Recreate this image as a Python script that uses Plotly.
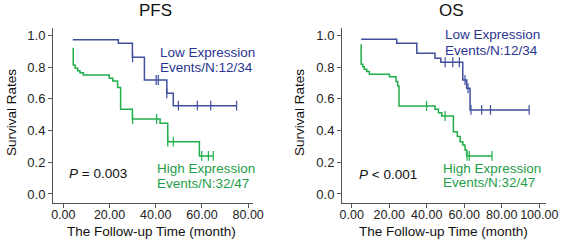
import plotly.graph_objects as go

# ---------------- data ----------------
# PFS, low expression
pfs_low_t = [4.1, 23.8, 29.9, 35.1, 44.8, 47.6, 75.0]
pfs_low_s = [0.973, 0.951, 0.862, 0.719, 0.635, 0.557, 0.557]
pfs_low_cens = [30.0, 40.2, 41.1, 44.8, 49.8, 58.0, 63.8, 75.0]
# PFS, high expression
pfs_high_t = [4.3, 4.3, 5.1, 6.2, 7.2, 8.7, 19.9, 21.4, 23.5, 24.8, 29.9, 41.9, 45.2, 58.9, 64.9]
pfs_high_s = [0.923, 0.814, 0.793, 0.778, 0.765, 0.751, 0.730, 0.713, 0.671, 0.534, 0.473, 0.446, 0.330, 0.240, 0.240]
pfs_high_cens = [30.0, 40.4, 45.2, 47.6, 59.9, 62.8, 64.9]
# OS, low expression
os_low_t = [5.0, 24.0, 34.7, 44.4, 47.5, 59.2, 61.3, 63.1, 94.6]
os_low_s = [0.976, 0.951, 0.888, 0.856, 0.831, 0.719, 0.667, 0.530, 0.530]
os_low_cens = [49.8, 53.9, 57.4, 60.4, 62.0, 63.6, 69.3, 74.0, 94.6]
# OS, high expression
os_high_t = [5.0, 5.0, 5.9, 6.7, 8.0, 9.4, 20.1, 23.6, 24.5, 25.2, 44.4, 46.2, 48.0,
             54.2, 56.3, 57.8, 59.2, 60.4, 61.3, 74.8]
os_high_s = [0.944, 0.818, 0.803, 0.787, 0.772, 0.755, 0.740, 0.709, 0.681, 0.555, 0.534, 0.513, 0.492,
             0.393, 0.362, 0.330, 0.309, 0.278, 0.240, 0.240]
os_high_cens = [39.9, 49.8, 61.5, 62.7, 74.8]

y_ticks = [0.0, 0.2, 0.4, 0.6, 0.8, 1.0]
y_tick_text = ["0.0", "0.2", "0.4", "0.6", "0.8", "1.0"]
pfs_x_ticks = [0, 20, 40, 60, 80]
os_x_ticks = [0, 20, 40, 60, 80, 100]

BLUE_LINE = "#3f4f9c"
GREEN_LINE = "#1fae4a"
BLUE_TEXT = "#2b3590"
GREEN_TEXT = "#1e9e48"
FONT = "Liberation Sans, Arial, sans-serif"


def step_value(ts, ss, t):
    v = ss[0]
    for ti, si in zip(ts, ss):
        if ti <= t + 1e-9:
            v = si
    return v


fig = go.Figure()


def add_curve(ts, ss, cens, color, xa, ya):
    fig.add_trace(go.Scatter(x=ts, y=ss, mode="lines", line=dict(color=color, width=1.5, shape="hv"),
                             xaxis=xa, yaxis=ya, showlegend=False, hoverinfo="skip"))
    fig.add_trace(go.Scatter(x=cens, y=[step_value(ts, ss, c) for c in cens], mode="markers",
                             marker=dict(symbol="line-ns", size=7, line=dict(color=color, width=1.2)),
                             xaxis=xa, yaxis=ya, showlegend=False, hoverinfo="skip"))


add_curve(pfs_low_t, pfs_low_s, pfs_low_cens, BLUE_LINE, "x", "y")
add_curve(pfs_high_t, pfs_high_s, pfs_high_cens, GREEN_LINE, "x", "y")
add_curve(os_low_t, os_low_s, os_low_cens, BLUE_LINE, "x2", "y2")
add_curve(os_high_t, os_high_s, os_high_cens, GREEN_LINE, "x2", "y2")

W, H = 562, 249


def px(x):
    return x / W


def py(y):
    return 1 - y / H


def axis_style(size):
    return dict(showline=True, linecolor="#555555", linewidth=1, ticks="outside", ticklen=4,
                tickcolor="#555555", showgrid=False, zeroline=False, automargin=False,
                tickfont=dict(family=FONT, size=size, color="#222222"))


ydom = [py(203), py(28)]
fig.update_layout(
    width=W, height=H, margin=dict(l=0, r=0, t=0, b=0, autoexpand=False),
    paper_bgcolor="white", plot_bgcolor="white",
    xaxis=dict(domain=[px(53), px(253)], range=[-4.46, 82.1], tickvals=pfs_x_ticks,
               ticktext=[f"{v:.2f}" for v in pfs_x_ticks], anchor="y", ticklabelstandoff=-4,
               **axis_style(12.5)),
    yaxis=dict(domain=ydom, range=[-0.057, 1.047], tickvals=y_ticks, ticktext=y_tick_text,
               anchor="x", **axis_style(13)),
    xaxis2=dict(domain=[px(342), px(546)], range=[-5.2, 103.6], tickvals=os_x_ticks,
                ticktext=[f"{v:.2f}" for v in os_x_ticks], anchor="y2", ticklabelstandoff=-4,
                **axis_style(12.5)),
    yaxis2=dict(domain=ydom, range=[-0.057, 1.047], tickvals=y_ticks, ticktext=y_tick_text,
                anchor="x2", **axis_style(13)),
)


def ann(text, x, y, size=13, color="#111111", xanchor="center", angle=0, align="left"):
    fig.add_annotation(text=text, x=px(x), y=py(y), xref="paper", yref="paper", showarrow=False,
                       xanchor=xanchor, yanchor="middle", textangle=angle, align=align,
                       font=dict(family=FONT, size=size, color=color))


# titles
ann("PFS", 155, 11, size=17)
ann("OS", 451, 11, size=17)
# axis titles
ann("Survival Rates", 11, 113, size=13.5, angle=-90)
ann("Survival Rates", 299, 113, size=13.5, angle=-90)
ann("The Follow-up Time (month)", 151, 231, size=13.5)
ann("The Follow-up Time (month)", 443, 231, size=13.5)
# group labels
ann("Low Expression", 158, 53, size=13.5, color=BLUE_TEXT, xanchor="left")
ann("Events/N:12/34", 158, 67, size=13.5, color=BLUE_TEXT, xanchor="left")
ann("High Expression", 155, 168, size=13.5, color=GREEN_TEXT, xanchor="left")
ann("Events/N:32/47", 155, 183, size=13.5, color=GREEN_TEXT, xanchor="left")
ann("Low Expression", 443, 35, size=13.5, color=BLUE_TEXT, xanchor="left")
ann("Events/N:12/34", 443, 50, size=13.5, color=BLUE_TEXT, xanchor="left")
ann("High Expression", 441, 168, size=13.5, color=GREEN_TEXT, xanchor="left")
ann("Events/N:32/47", 441, 182, size=13.5, color=GREEN_TEXT, xanchor="left")
# p-values
ann("<i>P</i> = 0.003", 67, 173, size=13.5, xanchor="left")
ann("<i>P</i> &lt; 0.001", 357, 174, size=13.5, xanchor="left")

fig.write_html("out.html", config={"displayModeBar": False},
               post_script="document.body.style.margin='0';document.body.style.overflow='hidden';")
